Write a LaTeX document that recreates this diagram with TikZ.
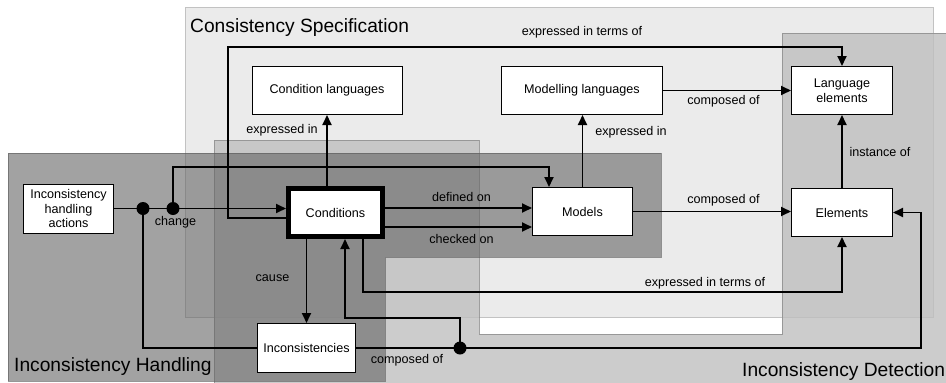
\documentclass[tikz,border=0pt]{standalone}
\usepackage{fontspec}
\setmainfont{Liberation Sans}
\usetikzlibrary{arrows.meta}
\definecolor{specfill}{HTML}{EBEBEB}
\definecolor{specline}{HTML}{C2C2C2}
\definecolor{detfill}{HTML}{BFBFBF}
\definecolor{detline}{HTML}{8C8C8C}
\definecolor{handfill}{HTML}{646464}
\definecolor{handline}{HTML}{5A5A5A}
\begin{document}
\begin{tikzpicture}[x=1pt,y={(0pt,-1pt)},
  box/.style={draw=black, line width=1pt, fill=white, inner sep=0pt, align=center,
    font=\fontsize{12.6}{14.5}\selectfont},
  condbox/.style={box, line width=5pt},
  lbl/.style={font=\fontsize{12.6}{14.5}\selectfont, inner sep=0pt, anchor=base},
  regiontitle/.style={font=\fontsize{19.2}{22}\selectfont, inner sep=0pt, anchor=base west},
  conn/.style={line width=1.8pt},
  arr/.style={conn, -{Triangle[length=10pt,width=9pt]}},
  joint/.style={fill=black}
]
\useasboundingbox (0,0) rectangle (946,383);

% regions
\path[fill=specfill, draw=specline, line width=1pt] (185,7) rectangle (933,317);
\path[fill=detfill, draw=detline, line width=1pt, opacity=0.8]
  (214,140) -- (479,140) -- (479,334) -- (782,334) -- (782,33) -- (970,33)
  -- (970,400) -- (214,400) -- cycle;
\path[fill=handfill, draw=handline, line width=1pt, opacity=0.6]
  (8,153) -- (661,153) -- (661,257) -- (385,257) -- (385,381) -- (8,381) -- cycle;

\node[regiontitle] (tspec) at (190,32) {Consistency Specification};
\node[regiontitle] (thand) at (14,371) {Inconsistency Handling};
\node[regiontitle] (tdet) at (742,376.5) {Inconsistency Detection};

% nodes
\node[box, minimum width=150pt, minimum height=48pt] (condlang) at (327,90.5) {Condition languages};
\node[box, minimum width=161pt, minimum height=48pt] (modlang) at (582,90.5) {Modelling languages};
\node[box, minimum width=101pt, minimum height=48pt] (langel) at (842,90.5) {Language\\elements};
\node[box, minimum width=90pt, minimum height=49pt] (actions) at (68.5,208.5) {Inconsistency\\handling\\actions};
\node[condbox, minimum width=94pt, minimum height=48pt] (cond) at (335.5,212.5) {Conditions};
\node[box, minimum width=100pt, minimum height=48pt] (models) at (582.5,211.5) {Models};
\node[box, minimum width=101pt, minimum height=48pt] (elements) at (842,212.5) {Elements};
\node[box, minimum width=98pt, minimum height=49pt] (incons) at (306.5,348) {Inconsistencies};

% helper coordinates
\coordinate (d1) at (143,208.5);
\coordinate (d2) at (173,208.5);
\coordinate (d3) at (460,348);
\coordinate (t1) at (228,218);
\coordinate (t2) at (228,47);
\coordinate (m1) at (549,167);
\coordinate (e1) at (363,292);
\coordinate (c1) at (921,348);
\coordinate (c2) at (345,318);

% connectors
\draw[arr] (cond.west |- t1) -- (t1) -- (t2) -- (langel.north |- t2) -- (langel.north);
\draw[arr] (cond.north -| condlang.south) -- (condlang.south);
\draw[arr] (actions.east) -- (actions.east -| cond.west);
\draw[arr] (d2) |- (m1) -- (m1 |- models.north);
\draw[conn] (d1) |- (incons.west);
\draw[arr] (cond.east |- 0,208) -- (models.west |- 0,208);
\draw[arr] (cond.east |- 0,227) -- (models.west |- 0,227);
\draw[arr] (models.north) -- (models.north |- modlang.south);
\draw[arr] (modlang.east) -- (langel.west);
\draw[arr] (elements.north) -- (langel.south);
\draw[arr] (models.east) -- (models.east -| elements.west);
\draw[arr] (cond.south -| e1) |- (elements.south |- e1) -- (elements.south);
\draw[arr] (cond.south -| incons.north) -- (incons.north);
\draw[arr] (incons.east) -- (c1) |- (elements.east);
\draw[arr] (d3) |- (c2) -- (c2 |- cond.south);

\fill[joint] (d1) circle[radius=6.5pt];
\fill[joint] (d2) circle[radius=6.5pt];
\fill[joint] (d3) circle[radius=6.5pt];

% labels
\node[lbl] (l1) at (582,35) {expressed in terms of};
\node[lbl] (l2) at (282,133) {expressed in};
\node[lbl] (l3) at (631,135) {expressed in};
\node[lbl] (l4) at (723.5,104) {composed of};
\node[lbl] (l5) at (880,156) {instance of};
\node[lbl] (l6) at (461.5,201) {defined on};
\node[lbl] (l7) at (461.5,243) {checked on};
\node[lbl] (l8) at (723.5,203.5) {composed of};
\node[lbl] (l9) at (705,286) {expressed in terms of};
\node[lbl] (l10) at (272.5,281.5) {cause};
\node[lbl] (l11) at (175.5,225) {change};
\node[lbl] (l12) at (407,363) {composed of};
\end{tikzpicture}
\end{document}
